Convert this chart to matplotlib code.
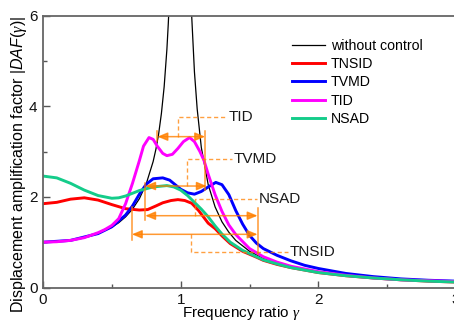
import numpy as np
import matplotlib
matplotlib.use("Agg")
from matplotlib import pyplot as plt

plt.rcParams['font.family'] = ['Liberation Sans', 'DejaVu Sans']
plt.rcParams['mathtext.fontset'] = 'custom'
plt.rcParams['mathtext.rm'] = 'Liberation Sans'
plt.rcParams['mathtext.sf'] = 'Liberation Sans:italic'
plt.rcParams['mathtext.it'] = 'Liberation Serif:italic'

# without control
g_none_lo = [0, 0.1, 0.2, 0.3, 0.4, 0.5, 0.55, 0.6, 0.65, 0.7, 0.75, 0.8, 0.82, 0.84, 0.86, 0.88, 0.9, 0.91, 0.92]
d_none_lo = [1.0, 1.01, 1.04, 1.10, 1.19, 1.33, 1.43, 1.56, 1.73, 1.96, 2.29, 2.78, 3.05, 3.39, 3.84, 4.43, 5.26, 5.82, 6.5]
g_none_hi = [1.07, 1.08, 1.1, 1.12, 1.15, 1.2, 1.25, 1.3, 1.35, 1.4, 1.5, 1.6, 1.7, 1.8, 2.0, 2.2, 2.4, 2.6, 2.8, 3.0]
d_none_hi = [6.9, 6.0, 4.76, 3.94, 3.09, 2.27, 1.78, 1.45, 1.22, 1.04, 0.80, 0.64, 0.53, 0.45, 0.33, 0.26, 0.21, 0.17, 0.15, 0.125]

# TNSID
g_tnsid = [0, 0.1, 0.2, 0.3, 0.4, 0.5, 0.6, 0.7, 0.76, 0.82, 0.87, 0.93, 0.98, 1.03, 1.08, 1.13, 1.2, 1.25,
           1.3, 1.36, 1.45, 1.55, 1.6, 1.7, 1.8, 2.0, 2.2, 2.4, 2.6, 2.8, 3.0]
d_tnsid = [1.85, 1.88, 1.95, 1.98, 1.93, 1.83, 1.74, 1.71, 1.72, 1.80, 1.87, 1.92, 1.94, 1.92, 1.86, 1.70, 1.42, 1.30,
           1.14, 0.97, 0.80, 0.67, 0.60, 0.51, 0.44, 0.33, 0.26, 0.21, 0.17, 0.14, 0.12]

# TVMD
g_tvmd = [0, 0.2, 0.4, 0.5, 0.6, 0.65, 0.7, 0.75, 0.8, 0.87, 0.92, 0.96, 1.0, 1.05, 1.1, 1.15, 1.2, 1.255, 1.3,
          1.35, 1.4, 1.45, 1.5, 1.55, 1.6, 1.7, 1.8, 1.9, 2.0, 2.2, 2.4, 2.6, 2.8, 3.0]
d_tvmd = [1.0, 1.04, 1.19, 1.34, 1.60, 1.80, 2.06, 2.28, 2.40, 2.42, 2.37, 2.27, 2.17, 2.09, 2.06, 2.12, 2.22, 2.32, 2.27,
          2.05, 1.70, 1.40, 1.15, 0.98, 0.86, 0.71, 0.59, 0.49, 0.42, 0.31, 0.24, 0.19, 0.16, 0.14]

# TID
g_tid = [0, 0.1, 0.2, 0.3, 0.4, 0.45, 0.5, 0.55, 0.6, 0.65, 0.7, 0.73, 0.77, 0.8, 0.83, 0.87, 0.9, 0.94, 0.98,
         1.02, 1.065, 1.1, 1.14, 1.17, 1.2, 1.25, 1.3, 1.35, 1.4, 1.5, 1.6, 1.7, 1.8, 2.0, 2.2, 2.4, 2.6, 2.8, 3.0]
d_tid = [1.0, 1.01, 1.04, 1.10, 1.21, 1.28, 1.37, 1.52, 1.85, 2.30, 2.80, 3.12, 3.31, 3.27, 3.12, 2.96, 2.91, 2.94, 3.07,
         3.22, 3.31, 3.22, 3.00, 2.80, 2.50, 2.05, 1.68, 1.38, 1.17, 0.86, 0.68, 0.56, 0.47, 0.35, 0.27, 0.21, 0.17, 0.15, 0.13]

# NSAD
g_nsad = [0, 0.1, 0.2, 0.3, 0.4, 0.5, 0.55, 0.6, 0.7, 0.8, 0.9, 0.95, 1.0, 1.05, 1.1, 1.15, 1.2, 1.25, 1.3,
          1.36, 1.45, 1.55, 1.6, 1.7, 1.8, 2.0, 2.2, 2.4, 2.6, 2.8, 3.0]
d_nsad = [2.46, 2.42, 2.30, 2.15, 2.03, 1.97, 1.98, 2.02, 2.14, 2.22, 2.25, 2.22, 2.15, 2.03, 1.88, 1.73, 1.56, 1.36, 1.18,
          1.00, 0.82, 0.68, 0.61, 0.52, 0.44, 0.33, 0.26, 0.21, 0.17, 0.14, 0.12]

# bandwidth marks: name, left, right, level
bands = [('TID', 0.831, 1.178, 3.33),
         ('TVMD', 0.742, 1.19, 2.24),
         ('NSAD', 0.742, 1.559, 1.585),
         ('TNSID', 0.645, 1.559, 1.174)]
# leaders: x of stem, y of label line, end of dashed line
leaders = [(0.984, 3.76, 1.336),
           (1.049, 2.84, 1.372),
           (1.105, 1.947, 1.554),
           (1.076, 0.79, 1.78)]
# solid end lines: x, y0, y1
ends = [(0.831, 3.23, 3.46), (1.178, 2.15, 3.46), (0.742, 1.49, 2.31),
        (1.559, 0.74, 1.755), (0.645, 1.05, 1.78)]

fig = plt.figure(figsize=(4.54, 3.22), dpi=100)
ax = fig.add_axes([43/454, 1 - 287.5/322, 413/454, 271.8/322])

ax.plot(g_none_lo, d_none_lo, color='black', lw=0.9, label='without control')
ax.plot(g_none_hi, d_none_hi, color='black', lw=0.9)
ax.plot(g_tnsid, d_tnsid, color='#FF0000', lw=2.1, label='TNSID')
ax.plot(g_tvmd, d_tvmd, color='#0000FF', lw=2.1, label='TVMD')
ax.plot(g_tid, d_tid, color='#FF00FF', lw=2.1, label='TID')
ax.plot(g_nsad, d_nsad, color='#14CC8A', lw=2.1, label='NSAD')

orange = '#FF8000'
for name, x0, x1, y in bands:
    ax.annotate('', xy=(x1, y), xytext=(x0, y),
                arrowprops=dict(arrowstyle='<|-|>,head_length=0.6,head_width=0.25',
                                color=orange, alpha=0.8, lw=1.1, mutation_scale=10,
                                shrinkA=0, shrinkB=0))
for x, y0, y1 in ends:
    ax.plot([x, x], [y0, y1], color=orange, alpha=0.8, lw=1.1)
for (name, x0, x1, y), (xs, yl, xe) in zip(bands, leaders):
    ax.plot([xs, xs, xe], [y, yl, yl], color=orange, alpha=0.75, lw=1.0, ls=(0, (3, 2)))
    ax.text(xe + 0.015, yl, name, fontsize=11, color='#1a1a1a', va='center', ha='left')

ax.set_xlim(0, 3)
ax.set_ylim(0, 6)
ax.set_xticks([0, 1, 2, 3])
ax.set_xticks([0.5, 1.5, 2.5], minor=True)
ax.set_yticks([0, 2, 4, 6])
ax.set_yticks([1, 3, 5], minor=True)
ax.tick_params(which='both', direction='in', colors='#555555', labelcolor='#111111', labelsize=11, width=1)
ax.tick_params(which='major', length=5, pad=4)
ax.tick_params(which='minor', length=3)
for s in ['left', 'bottom', 'top', 'right']:
    ax.spines[s].set_color('#666666')
    ax.spines[s].set_linewidth(1.3)

ax.set_xlabel(r'Frequency ratio $\gamma$', fontsize=11)
ax.set_ylabel(r'Displacement amplification factor |$\mathsf{DAF}$($\gamma$)|', fontsize=11.5)
ax.xaxis.set_label_coords(0.48, -0.061)
ax.yaxis.set_label_coords(-0.035, 0.454)

leg = ax.legend(loc='upper left', bbox_to_anchor=(0.604, 0.915), frameon=False, fontsize=10.2,
                handlelength=2.3, handletextpad=0.4, labelspacing=0.3, borderpad=0, borderaxespad=0)

fig.savefig('out.png', dpi=100)
